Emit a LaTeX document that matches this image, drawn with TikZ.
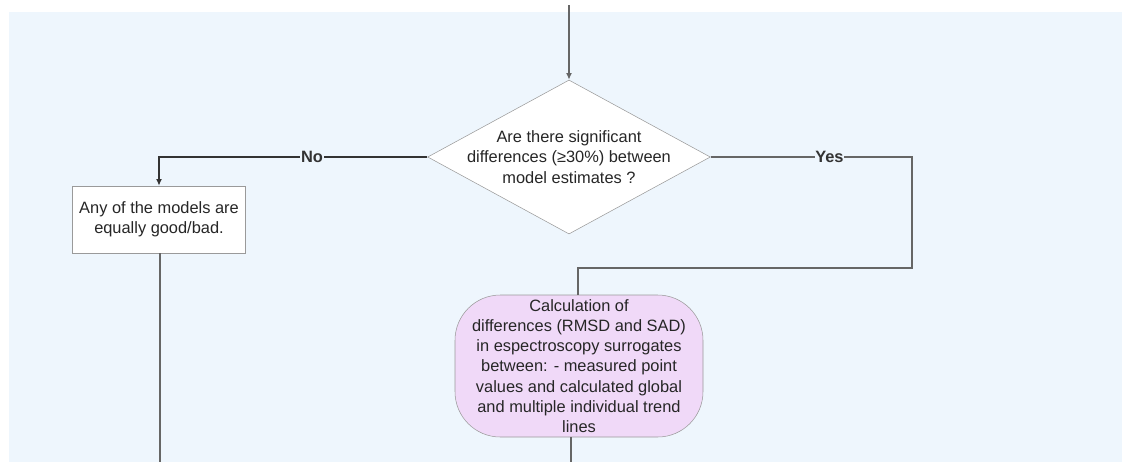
\documentclass[tikz,border=0pt]{standalone}
\usepackage{fontspec}
\setmainfont{Liberation Sans}
\usetikzlibrary{shapes.geometric,positioning,backgrounds,arrows.meta}

\definecolor{bgblue}{HTML}{EEF6FD}
\definecolor{calcpink}{HTML}{F0D9F8}
\definecolor{edgegray}{HTML}{9A9A9A}
\definecolor{linegray}{HTML}{666666}
\definecolor{nodark}{HTML}{333333}

\tikzset{
  txt/.style={font=\fontsize{12.3}{15.2}\selectfont,align=center,text=black!85},
  flow/.style={draw=linegray,line width=1.5pt},
  arr/.style={flow,-{Latex[length=5pt,width=4.5pt]}},
  lbl/.style={fill=bgblue,inner sep=0.5pt,font=\fontsize{12.3}{15}\selectfont\bfseries,text=black!80}
}

\begin{document}
\begin{tikzpicture}[x=0.75pt,y=-0.75pt]
% decision in the middle, No goes left, Yes goes round to the calculation
% the diamond text is a separate node at dec.center

\useasboundingbox (0,0) rectangle (1122,462);
\fill[bgblue] (9,12) rectangle (1122,462);

\coordinate (top) at (569,5);
\node[diamond,draw=edgegray,fill=white,inner sep=0pt,minimum width=212pt,minimum height=115.5pt] (dec) at (569,157) {};
\node[txt] (dectxt) at (dec.center) {Are there significant\\differences (≥30\%) between\\model estimates ?};

\node[draw=edgegray,fill=white,minimum width=129.75pt,minimum height=50.25pt,inner sep=0pt,txt] (any) at (159,219.5) {Any of the models are\\equally good/bad.};

\node[draw=edgegray,fill=calcpink,rounded corners=34pt,minimum width=186pt,minimum height=106.5pt,inner sep=0pt,txt] (calc) at (579,366) {Calculation of\\differences (RMSD and SAD)\\in espectroscopy surrogates\\between: - measured point\\values and calculated global\\and multiple individual trend\\lines};

\coordinate (yesr) at (912,157);
\coordinate (yesd) at (912,268);
\coordinate (yesl) at (578,268);
\coordinate (anyout) at (160,462);
\coordinate (calcb) at (571,437);
\coordinate (calcout) at (571,462);

\draw [arr] (top) -- (dec.north);
\draw [draw=nodark,line width=2pt,-{Latex[length=5pt,width=4.5pt]}] (dec.west) -| node [lbl,pos=0.215] {No} (any.north);
\draw [flow] (dec.east) -- node [lbl,pos=0.59] {Yes} (yesr) -- (yesd) -- (yesl) -- (calc.north -| yesl);
\draw [flow] (any.south -| anyout) -- (anyout);
\draw [flow] (calcb) -- (calcout);
\end{tikzpicture}
\end{document}
